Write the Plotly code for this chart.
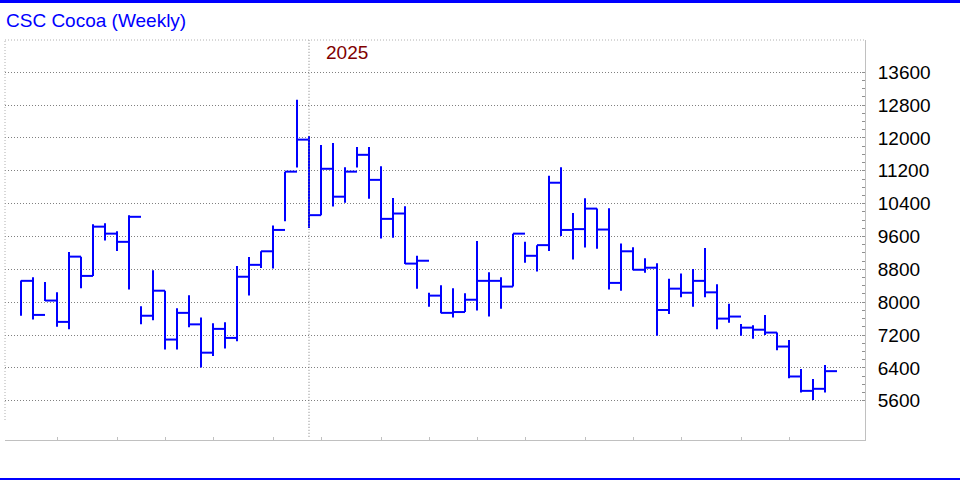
import plotly.graph_objects as go
import pandas as pd

# Weekly bars (week ending Friday)
weeks = [d.strftime("%Y-%m-%d") for d in pd.date_range("2024-07-12", periods=68, freq="W-FRI")]

highs = [8530, 8610, 8490, 8240, 9220, 9110, 9900, 9920, 9730, 10120,
         7900, 8780, 8280, 7850, 8170, 7630, 7490, 7510, 8880, 9100,
         9240, 9870, 11180, 12930, 12050, 11830, 11880, 11290, 11780, 11780,
         11310, 10540, 10340, 9130, 8230, 8410, 8340, 8220, 9490, 8730,
         8610, 9670, 9470, 9390, 11080, 11290, 10170, 10530, 10280, 10290,
         9430, 9340, 9070, 8950, 8570, 8700, 8810, 9320, 8440, 7960,
         7470, 7440, 7690, 7260, 7080, 6370, 6130, 6470]
lows = [7670, 7580, 8030, 7400, 7340, 8340, 8640, 9500, 9250, 8310,
        7460, 7560, 6850, 6850, 7390, 6410, 6690, 6870, 7050, 8160,
        8830, 8820, 9970, 11280, 9810, 10120, 10330, 10420, 11280, 10520,
        9550, 9570, 8930, 8330, 7890, 7730, 7630, 7760, 7800, 7650,
        7840, 8380, 8960, 8750, 9250, 9610, 9040, 9330, 9300, 8310,
        8280, 8780, 8720, 7180, 7710, 8120, 7890, 8120, 7340, 7500,
        7180, 7110, 7200, 6830, 6150, 5800, 5620, 5800]
closes = [8520, 7690, 8040, 7520, 9110, 8640, 9840, 9670, 9470, 10080,
          7670, 8280, 7090, 7740, 7460, 6770, 7350, 7130, 8620, 8910,
          9240, 9760, 11180, 11960, 10120, 11250, 10570, 11180, 11590, 10980,
          10030, 10160, 8940, 9010, 8160, 7740, 7760, 8060, 8520, 8520,
          8380, 9670, 9130, 9390, 10910, 9760, 9780, 10280, 9770, 8470,
          9240, 8790, 8840, 7810, 8330, 8230, 8520, 8240, 7600, 7650,
          7380, 7330, 7260, 6920, 6190, 5840, 5890, 6320]

price_ticks = [5600, 6400, 7200, 8000, 8800, 9600, 10400, 11200, 12000, 12800, 13600]
minor_ticks = list(range(5600, 13601, 200))
title_text = "CSC Cocoa (Weekly)"
year_label = "2025"

BLUE = "#0000FF"
FONT = "Liberation Sans, Arial, sans-serif"

# HLC bars: vertical high-low line plus a close tick to the right
xs, ys = [], []
for i, (h, l, c) in enumerate(zip(highs, lows, closes)):
    xs += [i, i, None, i, i + 1, None]
    ys += [h, l, None, c, c, None]

month_ticks = [i for i, w in enumerate(weeks) if int(w[8:10]) <= 7]
year_idx = next(i for i in range(len(weeks) - 1) if weeks[i + 1][:4] != weeks[i][:4])

fig = go.Figure()
fig.add_trace(go.Scatter(x=xs, y=ys, mode="lines",
                         line=dict(color=BLUE, width=2),
                         hoverinfo="skip", showlegend=False))

fig.update_layout(
    width=960, height=480, autosize=False,
    margin=dict(l=5, r=95, t=40, b=40),
    paper_bgcolor="white", plot_bgcolor="white",
    title=dict(text=title_text, x=6 / 960, y=1 - 20 / 480,
               xanchor="left", yanchor="middle", xref="container", yref="container",
               font=dict(family=FONT, size=19, color=BLUE)),
    showlegend=False,
)

fig.update_xaxes(
    range=[-1.333, 70.333], showgrid=False, zeroline=False,
    showline=True, linecolor="#c0c0c0", linewidth=1,
    tickmode="array", tickvals=month_ticks, ticktext=["" for _ in month_ticks],
    ticks="inside", ticklen=3, tickcolor="#c0c0c0", showticklabels=False,
)

fig.update_yaxes(
    range=[4643, 14387], side="right", zeroline=False,
    showline=True, linecolor="#c0c0c0", linewidth=1,
    tickmode="array", tickvals=price_ticks, ticktext=[str(v) for v in price_ticks],
    ticks="inside", ticklen=3, tickcolor="#909090",
    tickfont=dict(family=FONT, size=19, color="black"),
    ticklabelstandoff=8,
    showgrid=True, gridcolor="#808080", gridwidth=1, griddash="1px,2px",
    minor=dict(tickvals=minor_ticks, ticks="inside", ticklen=3,
               tickcolor="#909090", showgrid=False),
)

shapes = [
    # year separator
    dict(type="line", xref="x", yref="paper", x0=year_idx, x1=year_idx, y0=0.008, y1=1,
         line=dict(color="#808080", width=1, dash="1px,2px")),
    # dotted top and left frame
    dict(type="line", xref="paper", yref="paper", x0=0, x1=1, y0=1, y1=1,
         line=dict(color="#b0b0b0", width=1, dash="1px,2px")),
    dict(type="line", xref="paper", yref="paper", x0=0, x1=0, y0=0.05, y1=1,
         line=dict(color="#b0b0b0", width=1, dash="1px,2px")),
    # blue page rules
    dict(type="line", xref="paper", yref="paper", x0=-5 / 860, x1=955 / 860,
         y0=(440 - 1.5) / 400, y1=(440 - 1.5) / 400, line=dict(color=BLUE, width=3)),
    dict(type="line", xref="paper", yref="paper", x0=-5 / 860, x1=955 / 860,
         y0=(440 - 479) / 400, y1=(440 - 479) / 400, line=dict(color=BLUE, width=2)),
]
fig.update_layout(shapes=shapes)

fig.add_annotation(x=year_idx, y=(440 - 53) / 400, xref="x", yref="paper",
                   text=year_label, showarrow=False, xanchor="left", yanchor="middle",
                   xshift=15, font=dict(family=FONT, size=19, color="#800000"))

fig.write_html("out.html", config={"displayModeBar": False},
               post_script="document.body.style.margin='0';document.body.style.overflow='hidden';")
